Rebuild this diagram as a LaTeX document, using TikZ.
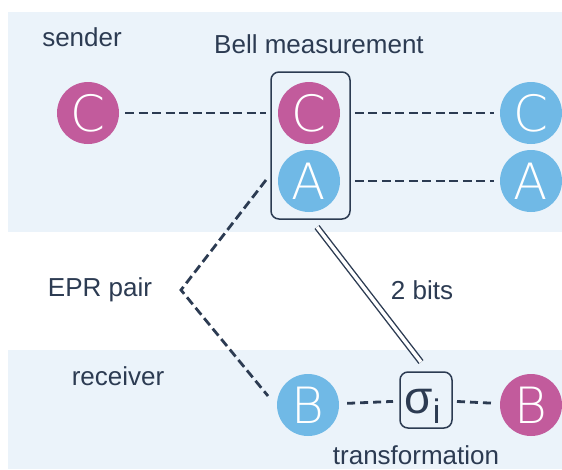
\documentclass[tikz,border=0pt]{standalone}
\usepackage{fontspec}
\setmainfont{Liberation Sans}
\newfontfamily\qfont{DejaVu Sans ExtraLight}
\definecolor{band}{HTML}{EBF3FA}
\definecolor{mag}{HTML}{C25B9C}
\definecolor{sky}{HTML}{70B9E6}
\definecolor{ink}{HTML}{2C3B52}
\tikzset{
  qubit/.style={circle, minimum size=62pt, inner sep=0pt, text=white,
    font=\qfont\fontsize{50}{50}\selectfont},
  label text/.style={text=ink, font=\fontsize{26}{26}\selectfont, inner sep=0pt},
  link/.style={draw=ink, line width=2.8pt, dash pattern=on 9pt off 4.5pt},
  frame/.style={draw=ink, line width=1.5pt},
}
\begin{document}
\begin{tikzpicture}[x=1pt,y=-1pt]
\useasboundingbox (0,0) rectangle (562,469);
\fill[white] (0,0) rectangle (562,469);
% sender and receiver bands
\fill[band] (8,12) rectangle (562,232);
\fill[band] (8,350) rectangle (562,469);

% qubits
\node[qubit, fill=mag] (cL) at (88,113) {C};
\node[qubit, fill=mag] (cM) at (309,113) {C};
\node[qubit, fill=sky] (aM) at (309,181) {A};
\node[qubit, fill=sky] (cR) at (531,113) {C};
\node[qubit, fill=sky] (aR) at (531,181) {A};
\node[qubit, fill=sky] (bL) at (308,405) {B};
\node[qubit, fill=mag] (bR) at (531,405) {B};

% Bell measurement frame
\node[frame, rounded corners=8pt, minimum width=79pt, minimum height=147pt] (bell) at (310.5,145.5) {};
% correction gate
\node[minimum width=52pt, minimum height=56pt, inner sep=0pt, outer sep=0pt] (sig) at (426,400) {};
\draw[frame, rounded corners=8pt] (sig.south west) rectangle (sig.north east);
\node[text=ink, inner sep=0pt, anchor=base west] (sigma) at (404,413)
  {\fontsize{46}{46}\selectfont σ};
\node[text=ink, inner sep=0pt, anchor=base west] (sub) at (sigma.base east)
  {\raisebox{-10pt}{\fontsize{34}{34}\selectfont i}};

% labels
\node[label text] (snd) at (82,37) {sender};
\node[label text] (bm) at (319,44) {Bell measurement};
\node[label text] (epr) at (100,290) {EPR pair};
\node[label text] (bits) at (422,290) {2 bits};
\node[label text] (rcv) at (118,376) {receiver};
\node[label text] (tr) at (416,455) {transformation};

% quantum wires
\draw[link, shorten <=6pt, shorten >=4pt] (cL) -- (bell.west |- cL);
\draw[link, shorten <=4pt, shorten >=6pt] (bell.east |- cM) -- (cR);
\draw[link, shorten <=4pt, shorten >=6pt] (bell.east |- aM) -- (aR);
\draw[link, shorten <=8pt, shorten >=7pt, dash pattern=on 8pt off 5pt] (bL) -- (sig);
\draw[link, shorten <=5pt, shorten >=7pt, dash pattern=on 8pt off 5pt] (sig) -- (bR);

% entangled pair
\coordinate (eprTop) at (266,180);
\coordinate (eprTip) at (181,290);
\coordinate (eprEnd) at (268,396);
\draw[link] (eprTop) -- (eprTip) -- (eprEnd);

% classical channel
\coordinate (chA) at (317,227);
\coordinate (chB) at (421,362);
\draw[draw=ink, line width=1.4pt, double=white, double distance=3.5pt] (chA) -- (chB);
\end{tikzpicture}
\end{document}
